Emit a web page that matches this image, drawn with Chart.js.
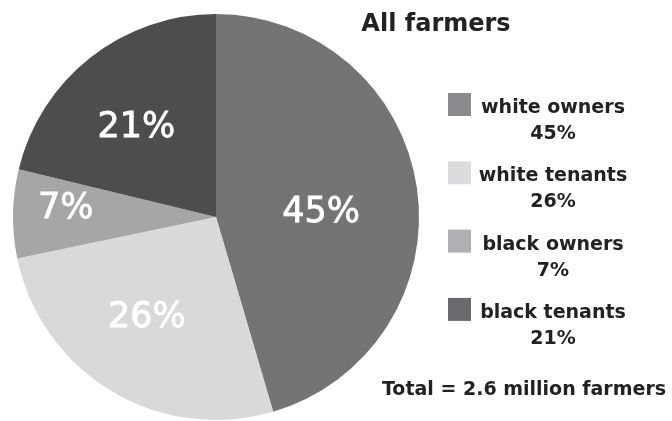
<!DOCTYPE html>
<html lang="en">
<head>
<meta charset="UTF-8">
<title>All farmers</title>
<style>
  html, body { margin: 0; padding: 0; background: #fff; }
  #box { position: relative; width: 672px; height: 421px; }
</style>
</head>
<body>
<div id="box">
  <canvas id="myChart" width="672" height="421"></canvas>
</div>
<script src="https://cdn.jsdelivr.net/npm/chart.js"></script>
<script>
  // data
  var categorias = ["white owners", "white tenants", "black owners", "black tenants"];
  var porcentagens = [45, 26, 7, 21];
  var coresFatia = ["#747474", "#d9d9d9", "#a6a6a6", "#4d4d4d"];
  var coresLegenda = ["#8a8a8e", "#dcdcde", "#b0b0b4", "#6a6a6e"];
  var titulo = "All farmers";
  var rodape = "Total = 2.6 million farmers";

  // where each slice label sits: fraction of radius, and a small turn (degrees) off the bisector
  var raioRotulo = [0.519, 0.587, 0.742, 0.601];
  var giroRotulo = [4.1, 4.6, 3.5, -2.5];

  var fonte = "'DejaVu Sans', Verdana, sans-serif";
  var corTexto = "#222";

  const rotulosFatia = {
    id: "rotulosFatia",
    afterDatasetsDraw(chart) {
      const ctx = chart.ctx;
      const arcs = chart.getDatasetMeta(0).data;
      const tam = 35;
      ctx.save();
      ctx.font = tam + "px " + fonte;
      ctx.fillStyle = "#fff";
      ctx.strokeStyle = "#fff";
      ctx.lineWidth = 0.8;
      ctx.textAlign = "center";
      ctx.textBaseline = "alphabetic";
      arcs.forEach(function (arc, i) {
        const meio = (arc.startAngle + arc.endAngle) / 2 + giroRotulo[i] * Math.PI / 180;
        const r = arc.outerRadius * raioRotulo[i];
        const x = arc.x + Math.cos(meio) * r;
        // y is the middle of the digits, so drop to the baseline
        const y = arc.y + Math.sin(meio) * r + tam * 0.365;
        const txt = porcentagens[i] + "%";
        ctx.fillText(txt, x, y);
        ctx.strokeText(txt, x, y);
      });
      ctx.restore();
    }
  };

  const textosLado = {
    id: "textosLado",
    afterDraw(chart) {
      const ctx = chart.ctx;
      ctx.save();
      ctx.fillStyle = corTexto;
      ctx.textAlign = "center";
      ctx.textBaseline = "alphabetic";

      ctx.font = "bold 24px " + fonte;
      ctx.fillText(titulo, 436, 31);

      for (let i = 0; i < categorias.length; i++) {
        const topo = 93 + i * 68.3;
        ctx.fillStyle = coresLegenda[i];
        ctx.fillRect(448, topo, 23, 23);
        ctx.fillStyle = corTexto;
        ctx.font = "bold 19px " + fonte;
        ctx.fillText(categorias[i], 553, topo + 20);
        ctx.fillText(porcentagens[i] + "%", 553, topo + 46);
      }

      ctx.font = "bold 19px " + fonte;
      ctx.fillText(rodape, 524, 395);
      ctx.restore();
    }
  };

  const data = {
    labels: categorias,
    datasets: [{
      data: porcentagens,
      backgroundColor: coresFatia,
      borderWidth: 0
    }]
  };

  const config = {
    type: "pie",
    data: data,
    options: {
      responsive: false,
      animation: false,
      layout: { padding: { left: 13, top: 14, right: 253, bottom: 1 } },
      plugins: {
        legend: { display: false },
        tooltip: { enabled: false }
      }
    },
    plugins: [rotulosFatia, textosLado]
  };

  const myChart = new Chart(document.getElementById("myChart"), config);
</script>
</body>
</html>
